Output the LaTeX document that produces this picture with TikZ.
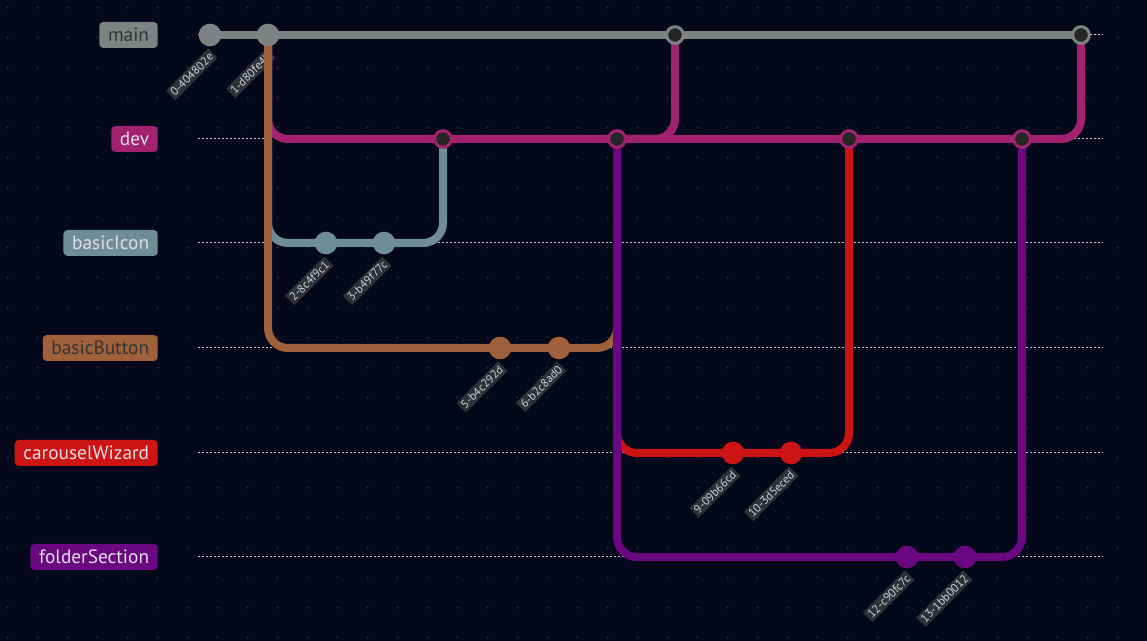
\documentclass[tikz,border=0pt]{standalone}
\usepackage{fontspec}
\setmainfont{PT Sans}
\usepackage{tikz}
\usetikzlibrary{positioning}
\definecolor{nightbg}{HTML}{03081A}
\definecolor{griddot}{HTML}{1E2332}
\definecolor{maingray}{HTML}{7E8283}
\definecolor{devpink}{HTML}{A2226F}
\definecolor{iconblue}{HTML}{6E8D96}
\definecolor{buttonbrown}{HTML}{A0603A}
\definecolor{wizardred}{HTML}{CC1414}
\definecolor{folderpurple}{HTML}{6B0780}
\definecolor{mergefill}{HTML}{262626}
\definecolor{darktxt}{HTML}{333333}
\definecolor{lighttxt}{HTML}{E2DCE8}
\definecolor{tagbg}{HTML}{2E3237}
\definecolor{tagtxt}{HTML}{C6D1DF}

\pgfdeclarelayer{back}
\pgfdeclarelayer{rails}
\pgfsetlayers{back,rails,main}

\tikzset{
  branchline/.style={draw=#1, line width=6pt, rounded corners=15pt},
  commit/.style={circle, fill=#1, inner sep=0pt, minimum size=17pt},
  mergecommit/.style={circle, fill=mergefill, draw=#1, line width=2.2pt,
    inner sep=0pt, minimum size=12.5pt},
  branchbox/.style={fill=#1, rounded corners=3pt, anchor=east,
    minimum height=19.5pt, inner xsep=6.5pt, font=\fontsize{14.5}{16}\selectfont},
  hashtag/.style={fill=tagbg, text=tagtxt, rotate=45, anchor=east,
    inner sep=1.8pt, font=\fontsize{8.8}{10}\selectfont},
  guide/.style={draw=white!78!black, line width=0.75pt,
    dash pattern=on 1.5pt off 1.5pt}
}

\begin{document}
\begin{tikzpicture}[x=0.75pt, y=-0.75pt]
	\begin{pgfonlayer}{back}
	    \fill[nightbg] (0,0) rectangle (1147,641);
	    \foreach \i in {0,...,37}
	        \foreach \j in {0,...,21}
	            \fill[griddot] (7.5+30*\i, 7.5+30*\j) circle (1.1pt);
	    \foreach \y in {35,139,243,348,453,557}
	        \draw[guide] (198,\y) -- (1103,\y);
	\end{pgfonlayer}
	\useasboundingbox (0,0) rectangle (1147,641);

	% branch names
	\node[branchbox=maingray, text=darktxt] (lmain) at (158,35) {main};
	\node[branchbox=devpink, text=lighttxt] (ldev) at (158,139) {dev};
	\node[branchbox=iconblue, text=lighttxt] (licon) at (158,243) {basicIcon};
	\node[branchbox=buttonbrown, text=darktxt] (lbutton) at (158,348) {basicButton};
	\node[branchbox=wizardred, text=lighttxt] (lwizard) at (158,453) {carouselWizard};
	\node[branchbox=folderpurple, text=lighttxt] (lfolder) at (158,557) {folderSection};

	% commits
	\node[commit=maingray] (c0) at (210,35) {};
	\node[commit=maingray] (c1) at (268,35) {};
	\node[mergecommit=maingray] (m1) at (675,35) {};
	\node[mergecommit=maingray] (m2) at (1081,35) {};
	\node[mergecommit=devpink] (d1) at (443,139) {};
	\node[mergecommit=devpink] (d2) at (617,139) {};
	\node[mergecommit=devpink] (d3) at (849,139) {};
	\node[mergecommit=devpink] (d4) at (1022,139) {};
	\node[commit=iconblue] (c2) at (326,243) {};
	\node[commit=iconblue] (c3) at (384,243) {};
	\node[commit=buttonbrown] (c5) at (500,348) {};
	\node[commit=buttonbrown] (c6) at (559,348) {};
	\node[commit=wizardred] (c9) at (733,453) {};
	\node[commit=wizardred] (c10) at (791,453) {};
	\node[commit=folderpurple] (c12) at (907,557) {};
	\node[commit=folderpurple] (c13) at (965,557) {};

	% commit ids, under the rails
	\begin{pgfonlayer}{back}
	    \foreach \c/\t in {c0/0-404802e, c1/1-d80fe4b, c2/2-8c4f9c1, c3/3-b49f77c,
	                       c5/5-b4c292d, c6/6-b2c8ad0, c9/9-09b66cd, c10/10-3d5eced,
	                       c12/12-c90fc7c, c13/13-1bb0012}
	        \node[hashtag] (t\c) at ([shift={(3,18)}]\c.center) {\t};
	\end{pgfonlayer}

	\begin{pgfonlayer}{rails}
	    \draw[branchline=maingray] (c0.center) -- (c1.center) -- (m1.center) -- (m2.center);
	    \draw[branchline=devpink] (c1.center) |- (d1.center) -- (d4.center) -| (m2.center);
	    \draw[branchline=devpink] (d2.center) -| (m1.center);
	    \draw[branchline=iconblue] (c1.center) |- (c2.center) -- (c3.center) -| (d1.center);
	    \draw[branchline=buttonbrown] (c1.center) |- (c5.center) -- (c6.center) -| (d2.center);
	    \draw[branchline=wizardred] (d2.center) |- (c9.center) -- (c10.center) -| (d3.center);
	    \draw[branchline=folderpurple] (d2.center) |- (c12.center) -- (c13.center) -| (d4.center);
	\end{pgfonlayer}
\end{tikzpicture}
\end{document}
